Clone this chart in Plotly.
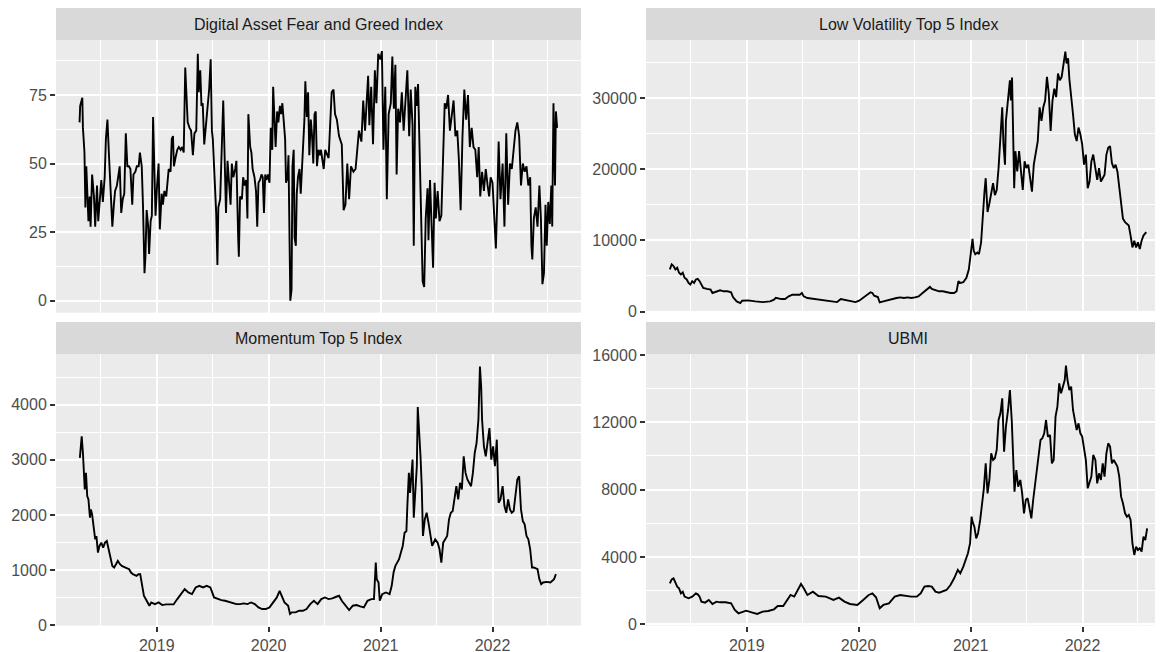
import pandas as pd
import plotly.graph_objects as go

# ---- data: (day number counted from 2018-01-01, value) ----
ORIGIN = "2018-01-01"

fear_greed_day = [113,115,122,124,129,132,135,138,142,146,149,154,160,164,170,174,179,184,189,195,
    199,204,209,213,220,225,229,235,239,244,249,254,259,264,269,274,279,285,289,295,
    300,306,310,316,320,323,325,328,332,337,340,345,349,353,357,361,366,371,375,381,
    385,390,396,400,404,410,414,418,421,426,432,437,443,448,453,458,462,466,472,477,
    483,488,494,499,502,507,511,515,520,525,530,536,541,545,548,553,559,563,566,572,
    577,582,586,591,596,600,606,610,615,621,625,631,633,637,643,647,652,657,661,664,
    670,674,678,684,689,693,697,702,707,711,715,719,723,728,733,737,742,745,749,753,
    758,762,767,771,775,780,784,787,792,795,798,801,805,808,812,815,819,822,826,831,
    835,838,843,847,850,855,859,863,868,872,876,880,884,888,893,897,901,906,910,915,
    926,936,942,947,953,960,969,975,981,987,993,999,1007,1014,1020,1025,1033,1039,1045,1049,
    1055,1059,1065,1071,1077,1082,1088,1095,1100,1105,1111,1116,1122,1129,1134,1139,1144,1148,1153,1159,
    1165,1171,1177,1183,1189,1194,1200,1204,1209,1214,1218,1224,1229,1233,1238,1243,1249,1252,1257,1262,
    1267,1272,1276,1282,1288,1294,1300,1305,1310,1316,1322,1328,1334,1340,1346,1351,1357,1363,1369,1375,
    1381,1387,1393,1399,1405,1411,1416,1421,1427,1433,1439,1445,1450,1455,1461,1467,1472,1477,1481,1487,
    1494,1500,1506,1512,1518,1524,1530,1536,1542,1548,1554,1560,1566,1572,1578,1584,1588,1591,1596,1602,
    1608,1614,1619,1624,1629,1634,1638,1643,1648,1653,1656,1660,1665,1668,1672]
fear_greed_val = [65,71,74,63,54,34,49,39,29,38,27,46,38,27,42,29,38,44,36,45,
    59,66,53,43,27,35,40,42,46,49,32,37,39,61,49,49,48,35,46,47,
    49,49,54,49,35,22,10,16,33,27,17,29,31,67,48,31,42,50,26,39,
    35,40,38,43,48,47,59,60,49,52,55,56,55,56,54,85,73,65,63,62,
    53,61,62,90,76,84,71,72,57,63,68,77,88,62,59,48,32,13,34,37,
    59,73,55,32,51,43,35,50,45,48,51,22,16,38,37,45,42,44,30,68,
    56,54,48,45,40,27,43,44,46,45,32,46,44,46,43,63,55,78,63,56,
    69,65,71,68,72,64,59,43,45,53,34,0,4,49,55,23,20,39,45,48,
    39,46,61,66,80,67,76,53,66,60,50,68,69,49,55,53,55,51,48,55,
    52,76,77,68,66,60,57,33,35,50,37,49,47,48,56,62,58,73,62,70,
    82,64,78,57,84,72,90,88,91,55,78,37,68,72,89,70,86,46,70,65,
    76,62,72,84,60,77,64,20,78,71,79,45,28,7,5,30,41,22,44,28,
    12,43,30,40,29,31,58,72,70,75,62,68,73,60,62,52,33,60,77,66,
    75,56,63,56,55,45,56,38,47,40,48,42,38,45,43,30,19,38,58,37,
    50,27,61,35,50,48,54,62,65,60,42,50,47,49,42,45,20,15,30,34,
    27,42,30,6,10,35,20,36,28,42,27,72,42,69,63]

low_vol = [(114,5933),(120,6645),(126,6408),(132,5933),(138,6171),(144,5459),(150,5221),(156,5459),
    (162,4747),(169,4509),(175,4035),(181,3797),(187,4272),(193,4035),(199,4509),(205,4604),(211,4272),
    (217,3797),(223,3323),(235,3180),(247,3085),(253,2611),(266,2848),(278,2990),(290,2848),(302,2848),
    (314,2706),(320,2041),(332,1424),(344,1187),(350,1519),(369,1566),(393,1424),(417,1329),(441,1424),
    (454,1661),(460,1946),(478,1756),(490,1756),(502,2136),(514,2373),(526,2373),(538,2373),(545,2611),
    (551,2136),(563,1899),(587,1756),(611,1566),(635,1424),(660,1329),(672,1756),(696,1566),(720,1329),
    (732,1519),(745,1899),(757,2231),(769,2706),(775,2611),(781,2231),(793,2041),(799,1282),(811,1424),
    (829,1661),(842,1756),(854,1899),(866,1994),(878,1899),(890,1994),(902,1899),(914,1994),(926,2136),
    (939,2611),(951,2990),(963,3465),(969,3180),(981,2990),(993,2848),(1005,2848),(1017,2706),(1030,2611),
    (1042,2611),(1050,2848),(1056,4272),(1062,4035),(1072,4130),(1082,4747),(1090,5933),(1096,7832),
    (1102,10206),(1106,8544),(1111,8069),(1118,8307),(1123,8069),(1130,9731),(1135,13528),(1141,16851),
    (1145,18750),(1151,14003),(1157,15190),(1163,16377),(1169,18038),(1175,16377),(1181,17089),(1187,20174),
    (1193,23972),(1199,28718),(1203,23497),(1208,20649),(1211,26820),(1218,29668),(1224,32516),(1227,29668),
    (1231,32895),(1234,26345),(1238,17326),(1242,22547),(1248,19699),(1254,22547),(1260,19699),(1266,17089),
    (1272,21124),(1278,20174),(1284,20649),(1290,18275),(1296,16851),(1302,20649),(1308,22072),(1315,23972),
    (1321,28718),(1327,26820),(1333,28718),(1339,29668),(1345,32990),(1351,30617),(1357,25395),(1363,29668),
    (1369,31329),(1375,30142),(1381,33465),(1387,32516),(1393,32990),(1399,34888),(1405,36550),(1409,34888),
    (1414,35600),(1418,32753),(1424,30617),(1430,27769),(1436,24921),(1442,23972),(1448,25870),(1454,24921),
    (1460,23497),(1466,20649),(1472,22072),(1478,17326),(1484,18275),(1490,21124),(1496,22072),(1503,19699),
    (1509,18512),(1515,20174),(1521,18275),(1527,18750),(1533,19224),(1539,22072),(1545,23022),(1551,23259),
    (1557,20886),(1563,20174),(1569,20649),(1575,19699),(1581,17326),(1587,14478),(1593,13054),(1600,12579),
    (1606,12342),(1612,12104),(1618,10680),(1624,9019),(1630,9968),(1636,9019),(1642,9731),(1648,8781),
    (1654,9968),(1660,10680),(1669,11155)]

momentum = [(114,3035),(118,3367),(120,3427),(124,3125),(130,2461),(134,2763),(138,2341),(142,2281),
    (147,1949),(150,2100),(154,2009),(160,1738),(164,1557),(168,1617),(173,1315),(178,1436),(184,1496),
    (190,1406),(196,1496),(202,1526),(208,1376),(214,1195),(220,1074),(226,1044),(232,1104),(238,1164),
    (245,1104),(251,1074),(263,1044),(275,1014),(281,953),(287,923),(299,893),(305,923),(311,923),(317,712),
    (323,531),(329,471),(335,410),(341,350),(347,410),(359,380),(371,410),(383,362),(395,374),(407,368),
    (420,374),(432,471),(444,561),(456,652),(462,621),(468,591),(480,561),(492,682),(504,712),(516,682),
    (528,712),(540,682),(552,501),(564,471),(576,452),(588,440),(601,422),(613,398),(625,380),(637,380),
    (649,392),(661,380),(673,410),(685,380),(697,320),(709,290),(721,290),(733,320),(745,410),(757,501),
    (766,621),(772,531),(782,410),(794,350),(800,199),(806,229),(818,229),(830,259),(842,259),(854,290),
    (866,380),(878,440),(890,380),(902,471),(914,501),(926,471),(938,483),(951,513),(960,531),(969,440),
    (981,350),(993,271),(1005,350),(1017,362),(1029,338),(1041,320),(1053,440),(1065,471),(1074,471),
    (1080,1134),(1083,833),(1089,772),(1093,440),(1101,561),(1113,591),(1125,561),(1132,712),(1138,953),
    (1144,1074),(1150,1134),(1156,1195),(1162,1315),(1168,1436),(1174,1677),(1180,1707),(1183,2160),
    (1188,2763),(1192,2401),(1195,2703),(1200,3004),(1204,1949),(1209,2401),(1214,2884),(1217,3958),
    (1222,3548),(1226,3065),(1230,2522),(1234,1617),(1240,1919),(1246,2039),(1252,1858),(1258,1677),
    (1264,1436),(1274,1557),(1282,1496),(1288,1376),(1294,1134),(1300,1496),(1313,1617),(1319,1919),
    (1325,2039),(1331,2069),(1337,2341),(1343,2522),(1349,2281),(1355,2582),(1361,2461),(1367,3065),
    (1373,2763),(1379,2643),(1385,2582),(1391,2522),(1397,2763),(1403,3125),(1409,3306),(1415,3729),
    (1420,4694),(1424,4332),(1427,3729),(1433,3246),(1439,3065),(1445,3306),(1451,3578),(1457,3004),
    (1463,3246),(1469,2884),(1475,3367),(1481,2220),(1487,2281),(1494,2522),(1500,2160),(1506,2039),
    (1512,2281),(1518,2100),(1524,2039),(1530,2069),(1536,2401),(1542,2643),(1548,2703),(1554,2100),
    (1560,1888),(1566,1828),(1572,1617),(1578,1557),(1584,1376),(1590,1044),(1596,1044),(1602,1026),
    (1608,1014),(1614,833),(1620,742),(1626,772),(1638,784),(1650,772),(1656,802),(1662,833),(1668,923)]

ubmi = [(114,2436),(120,2673),(126,2733),(132,2436),(138,2238),(144,2139),(150,1842),(156,1941),
    (162,1644),(175,1545),(187,1644),(199,1842),(205,1782),(211,1644),(217,1347),(229,1287),(241,1446),
    (253,1208),(266,1347),(278,1307),(296,1307),(314,1248),(326,851),(338,653),(350,752),(363,812),
    (381,713),(399,614),(417,752),(435,792),(454,891),(466,1089),(484,1089),(496,1446),(508,1743),
    (520,1644),(532,2040),(542,2396),(551,2139),(563,1743),(581,1941),(599,1683),(623,1644),(648,1446),
    (666,1584),(684,1347),(702,1208),(726,1149),(745,1446),(763,1743),(775,1842),(787,1604),(799,950),
    (811,1149),(829,1248),(848,1644),(866,1743),(884,1683),(902,1644),(920,1644),(933,1842),(945,2238),
    (957,2277),(969,2238),(981,1941),(993,1881),(1005,1941),(1017,2040),(1030,2337),(1042,2733),
    (1054,3228),(1062,3030),(1072,3426),(1080,3822),(1087,4218),(1094,4812),(1099,6396),(1102,6099),
    (1108,5802),(1114,5109),(1120,5406),(1127,6198),(1133,7188),(1139,8079),(1145,9564),(1151,7782),
    (1157,8574),(1163,10158),(1169,9762),(1175,9861),(1181,10356),(1187,12139),(1193,12535),(1199,13426),
    (1205,10257),(1211,11743),(1218,12733),(1224,13921),(1230,12139),(1236,9366),(1239,7881),(1245,9168),
    (1251,8178),(1258,8574),(1264,7782),(1270,6594),(1276,7386),(1282,7485),(1288,6990),(1294,6297),
    (1300,7386),(1306,8376),(1312,9366),(1318,10158),(1324,10950),(1330,11050),(1336,11347),(1342,12139),
    (1348,11149),(1355,11248),(1361,9564),(1367,9762),(1373,12337),(1379,12931),(1385,14317),(1391,13723),
    (1397,14119),(1403,14515),(1407,15366),(1412,14515),(1418,13921),(1424,14119),(1430,12733),(1436,12139),
    (1442,11545),(1448,11941),(1454,11347),(1460,11149),(1466,10554),(1472,9762),(1478,8079),(1484,8376),
    (1490,8772),(1496,10059),(1503,9762),(1509,8376),(1515,8970),(1521,8574),(1527,9564),(1533,8772),
    (1539,10158),(1545,10752),(1551,10554),(1557,9564),(1563,9762),(1569,9564),(1575,9366),(1581,8772),
    (1587,7584),(1593,7188),(1600,6594),(1606,6396),(1612,6495),(1618,6198),(1624,4812),(1630,4119),
    (1636,4614),(1642,4416),(1648,4515),(1654,4317),(1660,5208),(1666,5010),(1672,5703)]

titles = ["Digital Asset Fear and Greed Index", "Low Volatility Top 5 Index",
          "Momentum Top 5 Index", "UBMI"]


def to_dates(days):
    return pd.Timestamp(ORIGIN) + pd.to_timedelta(list(days), unit="D")


series = [
    (fear_greed_day, fear_greed_val),
    tuple(zip(*low_vol)),
    tuple(zip(*momentum)),
    tuple(zip(*ubmi)),
]

# ---- layout geometry: target page pixels; the figure div sits 8px in from the page corner ----
W, H = 1163, 652
OFF = 8
FONT = "Liberation Sans, Arial, Helvetica, sans-serif"


def fx(p):
    return (p - OFF) / W


def fy(p):
    return 1 - (p - OFF) / H


x_dom = {"L": [fx(56), fx(581)], "R": [fx(646), fx(1171)]}
y_dom = {"T": [fy(312.7), fy(40)], "B": [fy(625.5), fy(354)]}
strip_y = {"T": (fy(40), fy(8)), "B": (fy(354), fy(322))}
x_range = ["2018-02-06 02:24", "2022-10-16 21:36"]
y_ranges = [[-4.4, 95.05], [-161, 38180], [-9, 4923], [-71, 16059]]
y_major = [25, 10000, 1000, 4000]
pos = [("L", "T"), ("R", "T"), ("L", "B"), ("R", "B")]

fig = go.Figure()
for i, ((days, vals), (col, row)) in enumerate(zip(series, pos)):
    k = "" if i == 0 else str(i + 1)
    fig.add_trace(go.Scatter(
        x=to_dates(days), y=list(vals), mode="lines",
        line=dict(color="black", width=1.9), xaxis="x" + k, yaxis="y" + k,
        showlegend=False, hoverinfo="skip"))

    bottom = row == "B"
    fig.update_layout(**{
        "xaxis" + k: dict(
            type="date", domain=x_dom[col], range=x_range, anchor="y" + k,
            automargin=False,
            tick0="2019-01-01", dtick="M12", tickformat="%Y",
            showgrid=True, gridcolor="white", gridwidth=2, zeroline=False, showline=False,
            minor=dict(tick0="2018-07-01", dtick="M6", showgrid=True,
                       gridcolor="white", gridwidth=1),
            ticks="outside" if bottom else "", ticklen=5, tickwidth=2, tickcolor="#333333",
            showticklabels=bottom,
            tickfont=dict(family=FONT, size=16, color="#4D4D4D"),
            fixedrange=True),
        "yaxis" + k: dict(
            domain=y_dom[row], range=y_ranges[i], anchor="x" + k,
            automargin=False,
            tick0=0, dtick=y_major[i], tickformat="d",
            showgrid=True, gridcolor="white", gridwidth=2, zeroline=False, showline=False,
            minor=dict(tick0=0, dtick=y_major[i] / 2, showgrid=True,
                       gridcolor="white", gridwidth=1),
            ticks="outside", ticklen=5, tickwidth=2, tickcolor="#333333",
            tickfont=dict(family=FONT, size=16, color="#4D4D4D"),
            fixedrange=True),
    })

    y0, y1 = strip_y[row]
    fig.add_shape(type="rect", xref="paper", yref="paper",
                  x0=x_dom[col][0], x1=x_dom[col][1], y0=y0, y1=y1,
                  fillcolor="#D9D9D9", line=dict(width=0), layer="below")
    fig.add_annotation(xref="paper", yref="paper",
                       x=(x_dom[col][0] + x_dom[col][1]) / 2, y=(y0 + y1) / 2,
                       text=titles[i], showarrow=False, xanchor="center", yanchor="middle",
                       font=dict(family=FONT, size=16, color="#1A1A1A"))

fig.update_layout(
    width=W, height=H, margin=dict(l=0, r=0, t=0, b=0),
    paper_bgcolor="white", plot_bgcolor="#EBEBEB", showlegend=False,
)

fig.write_html("out.html")
